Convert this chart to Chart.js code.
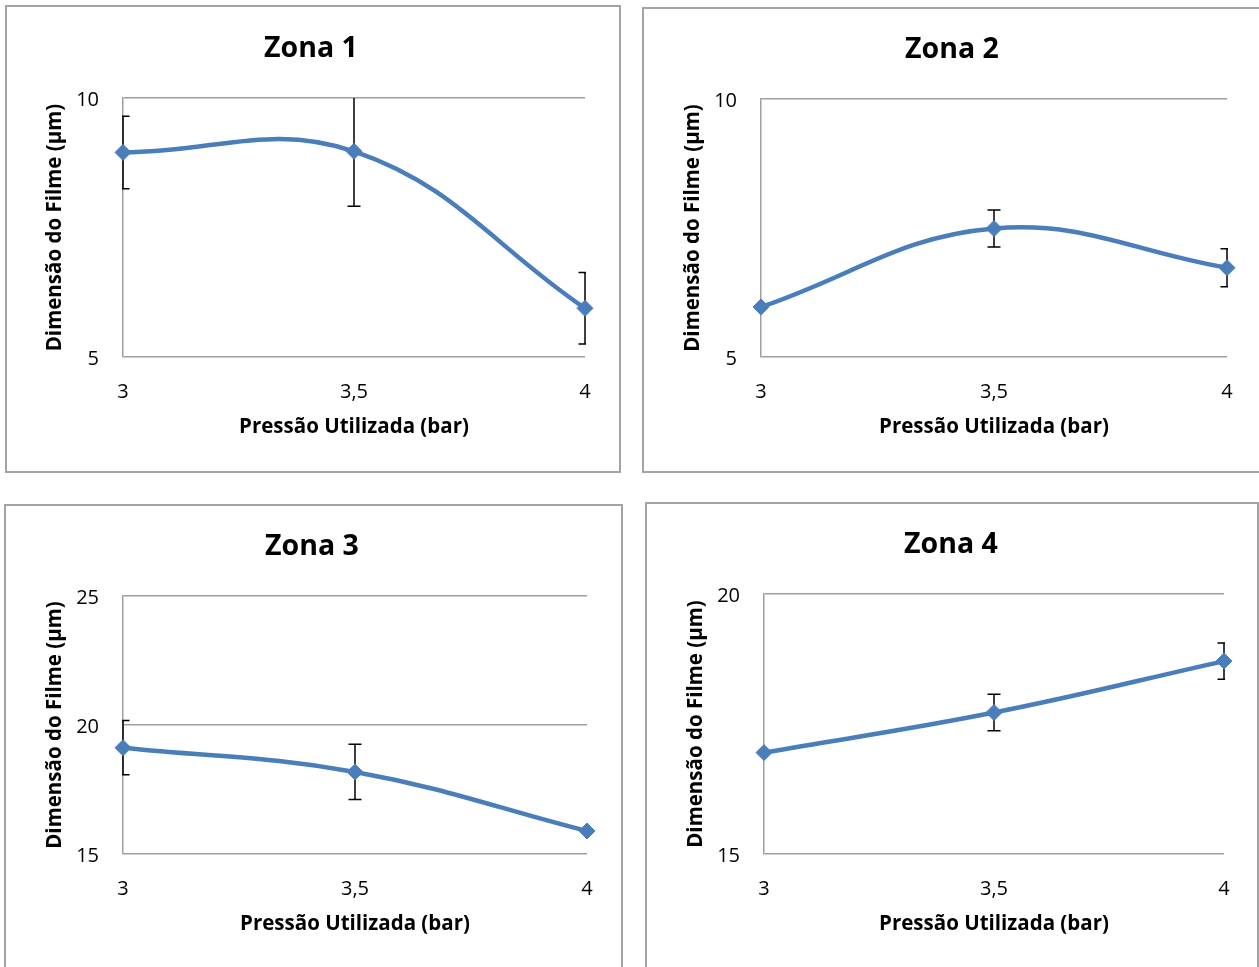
<!DOCTYPE html>
<html lang="pt">
<head>
<meta charset="UTF-8">
<title>Dimensão do Filme por Zona</title>
<script src="https://cdn.jsdelivr.net/npm/chart.js@4.4.1/dist/chart.umd.min.js"></script>
<style>
    html, body { margin: 0; padding: 0; background: #fff; overflow: hidden; }
    body { width: 1259px; height: 967px; position: relative; }
    .painel { position: absolute; box-sizing: border-box; border: 2px solid #a3a3a3; background: #fff; }
    .painel canvas { position: absolute; left: 0; top: 0; }
</style>
</head>
<body>
<div class="painel" style="left:5px;top:5px;width:616px;height:468px"><canvas id="zona1"></canvas></div>
<div class="painel" style="left:642px;top:7px;width:630px;height:466px"><canvas id="zona2"></canvas></div>
<div class="painel" style="left:4px;top:504px;width:619px;height:480px"><canvas id="zona3"></canvas></div>
<div class="painel" style="left:645px;top:502px;width:614px;height:480px"><canvas id="zona4"></canvas></div>
<script>
// dados
var pressoes = ['3', '3,5', '4'];

var zona1Valores = [8.95, 8.97, 5.94];
var zona1Erros = [0.70, 1.06, 0.69];
var zona1Ticks = [5, 10];

var zona2Valores = [5.97, 7.49, 6.73];
var zona2Erros = [0, 0.36, 0.37];
var zona2Ticks = [5, 10];

var zona3Valores = [19.12, 18.18, 15.89];
var zona3Erros = [1.05, 1.07, 0];
var zona3Ticks = [15, 20, 25];

var zona4Valores = [16.95, 17.72, 18.71];
var zona4Erros = [0, 0.35, 0.35];
var zona4Ticks = [15, 20];

var fonte = '"Open Sans", Lato, sans-serif';
var azul = '#4a7ebb';
var cinza = '#9f9f9f';

// barras de erro desenhadas por baixo da linha
var barrasErro = {
    id: 'barrasErro',
    beforeDatasetsDraw: function (chart) {
        var ctx = chart.ctx, a = chart.chartArea;
        var x = chart.scales.x, y = chart.scales.y;
        var ds = chart.data.datasets[0];
        ctx.save();
        ctx.beginPath();
        ctx.rect(a.left - 1, a.top, a.right - a.left + 2, a.bottom - a.top + 1);
        ctx.clip();
        ctx.strokeStyle = '#000';
        ctx.lineWidth = 1.5;
        ds.erros.forEach(function (e, i) {
            if (!e) return;
            var px = x.getPixelForValue(i);
            var cima = y.getPixelForValue(ds.data[i] + e);
            var baixo = y.getPixelForValue(ds.data[i] - e);
            ctx.beginPath();
            ctx.moveTo(px, cima); ctx.lineTo(px, baixo);
            ctx.moveTo(px - 6.5, cima); ctx.lineTo(px + 6.5, cima);
            ctx.moveTo(px - 6.5, baixo); ctx.lineTo(px + 6.5, baixo);
            ctx.stroke();
        });
        ctx.restore();
    }
};

function desenhar(id, painel, area, tituloX, titulo, valores, erros, ticks) {
    var cv = document.getElementById(id);
    var ox = painel.left + 2, oy = painel.top + 2;
    var cw = painel.width - 4, ch = painel.height - 4;
    cv.width = cw;
    cv.height = ch;
    var aL = area.left - ox, aT = area.top - oy, aR = area.right - ox, aB = area.bottom - oy;
    var padR = cw - aR;
    var padL = 2 * (tituloX - ox) - cw + padR;   // centra o titulo
    var centroTitulo = aT - 50;
    var lhTitulo = 28.5 * 1.2, lhEixo = 20.5 * 1.2;

    return new Chart(cv.getContext('2d'), {
        type: 'line',
        data: {
            labels: pressoes,
            datasets: [{
                data: valores,
                erros: erros,
                borderColor: azul,
                borderWidth: 4.5,
                tension: 0.4,
                pointStyle: 'rectRot',
                pointRadius: 8,
                pointBackgroundColor: azul,
                pointBorderColor: azul,
                pointBorderWidth: 1,
                clip: false
            }]
        },
        options: {
            responsive: false,
            animation: false,
            events: [],
            layout: { padding: { left: padL, right: padR, top: 0, bottom: ch - aB - 100 } },
            plugins: {
                legend: { display: false },
                tooltip: { enabled: false },
                title: {
                    display: true,
                    text: titulo,
                    color: '#000',
                    font: { family: fonte, size: 28.5, weight: 'bold' },
                    padding: { top: centroTitulo - lhTitulo / 2 + 1, bottom: aT - centroTitulo - lhTitulo / 2 - 1 }
                }
            },
            scales: {
                x: {
                    type: 'category',
                    offset: false,
                    grid: { display: false },
                    border: { display: false },
                    ticks: { color: '#000', font: { family: fonte, size: 20 }, padding: 15, maxRotation: 0 },
                    title: {
                        display: true,
                        text: 'Pressão Utilizada (bar)',
                        color: '#000',
                        font: { family: fonte, size: 20.5, weight: 'bold' },
                        padding: { top: 0, bottom: 30 - lhEixo / 2 }
                    },
                    afterFit: function (s) { s.height = 100; }
                },
                y: {
                    type: 'linear',
                    min: ticks[0],
                    max: ticks[ticks.length - 1],
                    ticks: { stepSize: 5, color: '#000', font: { family: fonte, size: 20 }, padding: 24, labelOffset: 2 },
                    grid: { color: cinza, lineWidth: 1.5, drawTicks: false },
                    border: { display: true, color: cinza, width: 1.5 },
                    title: {
                        display: true,
                        text: 'Dimensão do Filme (µm)',
                        color: '#000',
                        font: { family: fonte, size: 20.5, weight: 'bold' },
                        padding: { top: aL - 68 - lhEixo / 2 - padL, bottom: 0 }
                    },
                    afterFit: function (s) { s.width = aL - padL; }
                }
            }
        },
        plugins: [barrasErro]
    });
}

desenhar('zona1', { left: 5, top: 5, width: 616, height: 468 }, { left: 123, top: 98, right: 585, bottom: 357 }, 311,
    'Zona 1', zona1Valores, zona1Erros, zona1Ticks);
desenhar('zona2', { left: 642, top: 7, width: 630, height: 466 }, { left: 761, top: 99, right: 1227, bottom: 357 }, 952,
    'Zona 2', zona2Valores, zona2Erros, zona2Ticks);
desenhar('zona3', { left: 4, top: 504, width: 619, height: 480 }, { left: 123, top: 596, right: 587, bottom: 854 }, 312,
    'Zona 3', zona3Valores, zona3Erros, zona3Ticks);
desenhar('zona4', { left: 645, top: 502, width: 614, height: 480 }, { left: 764, top: 594, right: 1224, bottom: 854 }, 951,
    'Zona 4', zona4Valores, zona4Erros, zona4Ticks);
</script>
</body>
</html>
